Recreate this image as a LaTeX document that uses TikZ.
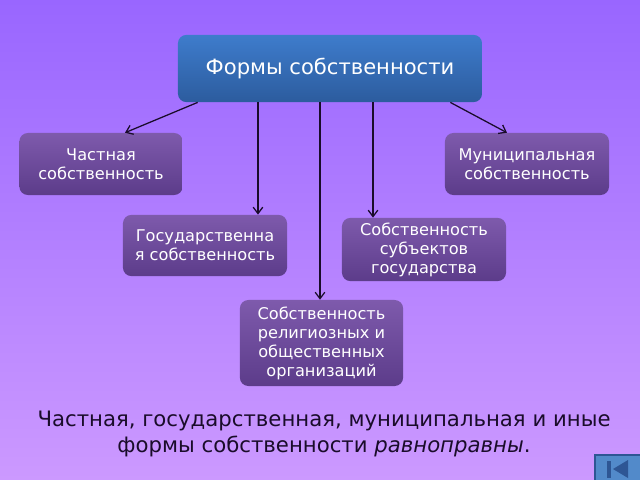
\documentclass[tikz,border=0pt]{standalone}
\usepackage{fontspec}
\setmainfont{DejaVu Sans}
\usetikzlibrary{arrows.meta}
\definecolor{bgtop}{RGB}{153,102,255}
\definecolor{bgbot}{RGB}{204,153,255}
\definecolor{boxtop}{RGB}{126,90,172}
\definecolor{boxbot}{RGB}{92,60,138}
\definecolor{headtop}{RGB}{62,124,204}
\definecolor{headbot}{RGB}{44,92,158}
\definecolor{navblue}{RGB}{82,138,202}
\definecolor{navdark}{RGB}{46,86,148}
\definecolor{ink}{RGB}{26,12,42}
\begin{document}
\begin{tikzpicture}[x=0.025cm,y=-0.025cm,
  form/.style={rounded corners=6pt,text=white,align=center,inner sep=0pt,top color=boxtop,bottom color=boxbot,font=\fontsize{11.5}{13.5}\selectfont},
  link/.style={-{Straight Barb[length=1.6mm,width=2.4mm]},line width=0.9pt,color=ink}]
\useasboundingbox (0,0) rectangle (640,480);
\shade[top color=bgtop,bottom color=bgbot] (0,0) rectangle (640,480);
\node[form,top color=headtop,bottom color=headbot,minimum width=7.6cm,minimum height=1.68cm,font=\fontsize{15}{18}\selectfont] (head) at (330,68.5) {Формы собственности};
\node[form,minimum width=4.08cm,minimum height=1.55cm] (chast) at (101,164) {Частная\\собственность};
\node[form,minimum width=4.1cm,minimum height=1.55cm] (mun) at (527,164) {Муниципальная\\собственность};
\node[form,minimum width=4.1cm,minimum height=1.53cm] (gos) at (205,245.5) {Государственна\\я собственность};
\node[form,minimum width=4.1cm,minimum height=1.58cm] (subj) at (424,249.5) {Собственность\\субъектов\\государства};
\node[form,minimum width=4.08cm,minimum height=2.15cm] (rel) at (321.5,343) {Собственность\\религиозных и\\общественных\\организаций};
% connectors
\draw[link] ([xshift=0.5cm]head.south west) -- ([xshift=0.6cm]chast.north);
\draw[link] ([xshift=-1.8cm]head.south) -- ([xshift=-1.8cm]head.south |- gos.north);
\draw[link] ([xshift=-0.25cm]head.south) -- ([xshift=-0.25cm]head.south |- rel.north);
\draw[link] ([xshift=1.075cm]head.south) -- ([xshift=1.075cm]head.south |- subj.north);
\draw[link] ([xshift=-0.8cm]head.south east) -- ([xshift=-0.5cm]mun.north);
\node[align=center,text=ink,font=\fontsize{15.1}{18}\selectfont] (summary) at (324,434) {Частная, государственная, муниципальная и иные\\формы собственности \textit{равноправны}.};
% navigation button
\draw[fill=navblue,draw=navdark,line width=1.2pt] (595,455) rectangle (642,482);
\fill[navdark] (607,461) rectangle (611,478);
\fill[navdark] (628,460) -- (628,478) -- (613,469) -- cycle;
\end{tikzpicture}
\end{document}
